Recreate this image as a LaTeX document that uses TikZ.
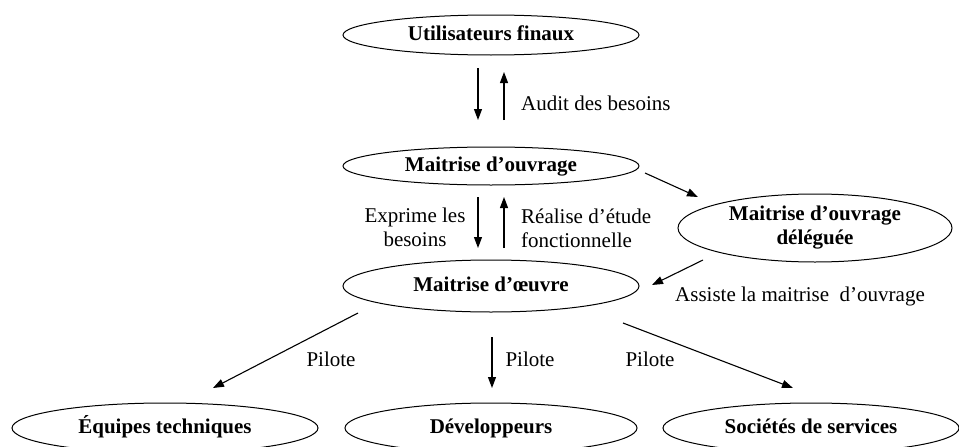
\documentclass[tikz,border=0pt]{standalone}
\usepackage{fontspec}
\setmainfont{Liberation Serif}
\usetikzlibrary{shapes.geometric,arrows.meta}
\begin{document}
\begin{tikzpicture}[x=1pt,y=-1pt,
  ell/.style={draw, ellipse, line width=1pt, inner sep=0pt, font=\fontsize{21}{24}\selectfont\bfseries, align=center, text height=14pt, text depth=4pt},
  lbl/.style={font=\fontsize{21}{24}\selectfont, inner sep=0pt},
  arr/.style={line width=1.1pt, -{Triangle[length=11pt,width=8pt]}}]
\useasboundingbox (0,0) rectangle (959,447);
% nodes
\node[ell, minimum width=296pt, minimum height=40pt] (uf) at (491,35) {Utilisateurs finaux};
\node[ell, minimum width=296pt, minimum height=38pt] (mo) at (491,166) {Maitrise d’ouvrage};
\node[ell, text height=, text depth=, minimum width=274pt, minimum height=68pt] (dl) at (815,228) {Maitrise d’ouvrage\\déléguée};
\node[ell, minimum width=296pt, minimum height=52pt] (moe) at (491,286) {Maitrise d’œuvre};
\node[ell, minimum width=306pt, minimum height=50pt] (eq) at (165,428) {Équipes techniques};
\node[ell, minimum width=292pt, minimum height=50pt] (dev) at (491,428) {Développeurs};
\node[ell, minimum width=296pt, minimum height=50pt] (soc) at (811,428) {Sociétés de services};
% vertical arrows
\draw[arr] ([shift={(-13,33)}]uf.center) -- ([shift={(-13,-46)}]mo.center);
\draw[arr] ([shift={(13,-46)}]mo.center) -- ([shift={(13,37)}]uf.center);
\draw[arr] ([shift={(-13,31)}]mo.center) -- ([shift={(-13,-38)}]moe.center);
\draw[arr] ([shift={(13,-38)}]moe.center) -- ([shift={(13,31)}]mo.center);
% diagonal arrows
\draw[arr] ([shift={(154,7)}]mo.center) -- ([shift={(-117,-31)}]dl.center);
\draw[arr] ([shift={(-112,32)}]dl.center) -- ([shift={(161,-1)}]moe.center);
\draw[arr] ([shift={(-133,27)}]moe.center) -- ([shift={(48,-40)}]eq.center);
\draw[arr] ([shift={(1,51)}]moe.center) -- ([shift={(1,-40)}]dev.center);
\draw[arr] ([shift={(132,37)}]moe.center) -- ([shift={(-18,-40)}]soc.center);
% labels
\node[lbl, anchor=west] (l1) at (521,103) {Audit des besoins};
\node[lbl, align=center] (l2) at (415,227) {Exprime les\\besoins};
\node[lbl, align=left, anchor=west] (l3) at (521,228) {Réalise d’étude\\fonctionnelle};
\node[lbl] (l4) at (800,296) {Assiste la maitrise \ d’ouvrage};
\node[lbl] (p1) at (331,359) {Pilote};
\node[lbl] (p2) at (530,359) {Pilote};
\node[lbl] (p3) at (650,359) {Pilote};
\end{tikzpicture}
\end{document}
